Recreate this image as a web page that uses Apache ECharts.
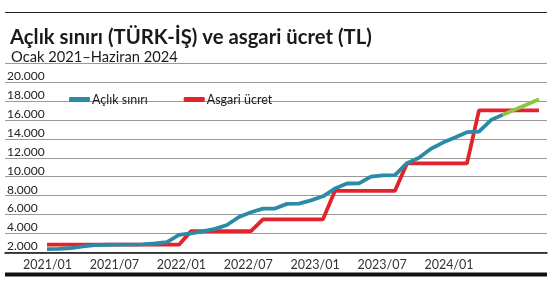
<!DOCTYPE html>
<html>
<head>
<meta charset="utf-8">
<script src="https://cdn.jsdelivr.net/npm/echarts@6/dist/echarts.min.js"></script>
<style>
html,body{margin:0;padding:0;background:#fff;}
#c{width:552px;height:285px;}
</style>
</head>
<body>
<div id="c"></div>
<script>
// Months (Ocak 2021 – Haziran 2024)
const months = [
  '2021/01','2021/02','2021/03','2021/04','2021/05','2021/06','2021/07','2021/08','2021/09','2021/10','2021/11','2021/12',
  '2022/01','2022/02','2022/03','2022/04','2022/05','2022/06','2022/07','2022/08','2022/09','2022/10','2022/11','2022/12',
  '2023/01','2023/02','2023/03','2023/04','2023/05','2023/06','2023/07','2023/08','2023/09','2023/10','2023/11','2023/12',
  '2024/01','2024/02','2024/03','2024/04','2024/05','2024/06'
];
// Açlık sınırı (TL) (through 2024/03)
const aclik = [
  2350, 2380, 2470, 2650, 2780, 2820, 2830, 2830, 2850, 2950, 3100, 3850,
  4030, 4220, 4490, 4900, 5750, 6250, 6630, 6640, 7130, 7160, 7500, 7930,
  8750, 9280, 9290, 10000, 10150, 10160, 11430, 12000, 12950, 13600, 14130, 14700,
  14750, 15980, 16550
];
// Açlık sınırı, final months drawn in green
const aclikSonMonths = ['2024/03','2024/04','2024/05','2024/06'];
const aclikSon = [16550, 17080, 17620, 18170];
// Asgari ücret (TL)
const asgari = [
  2825.90, 2825.90, 2825.90, 2825.90, 2825.90, 2825.90, 2825.90, 2825.90, 2825.90, 2825.90, 2825.90, 2825.90,
  4253.40, 4253.40, 4253.40, 4253.40, 4253.40, 4253.40, 5500.35, 5500.35, 5500.35, 5500.35, 5500.35, 5500.35,
  8506.80, 8506.80, 8506.80, 8506.80, 8506.80, 8506.80, 11402.32, 11402.32, 11402.32, 11402.32, 11402.32, 11402.32,
  17002.12, 17002.12, 17002.12, 17002.12, 17002.12, 17002.12
];
// X tick labels
const xTickLabels = ['2021/01','2021/07','2022/01','2022/07','2023/01','2023/07','2024/01'];
const xTickSteps = [0, 6, 12, 18, 24, 30, 36];
// Y ticks
const yMin = 2000, yMax = 22000, yStep = 2000;

const FONT = 'Lato';
const chart = echarts.init(document.getElementById('c'), null, {renderer: 'canvas'});

const redData = asgari.map((v, i) => [i, v]);
const blueData = aclik.map((v, i) => [i, v]);
const greenData = aclikSon.map((v, k) => [months.indexOf(aclikSonMonths[k]), v]);

chart.setOption({
  animation: false,
  backgroundColor: '#fff',
  textStyle: {fontFamily: FONT},
  title: [
    {text: 'Açlık sınırı (TÜRK-İŞ) ve asgari ücret (TL)', left: 5, top: 22,
     textStyle: {fontFamily: FONT, fontSize: 20.3, fontWeight: 'bold', color: '#1a1a1a'}},
    {text: 'Ocak 2021–Haziran 2024', left: 6, top: 45,
     textStyle: {fontFamily: FONT, fontSize: 14.7, fontWeight: 'normal', color: '#1a1a1a'}}
  ],
  graphic: [
    {type: 'line', shape: {x1: 5, y1: 12.5, x2: 547, y2: 12.5}, style: {stroke: '#222', lineWidth: 1}},
    {type: 'rect', shape: {x: 5, y: 272.5, width: 542, height: 4}, style: {fill: '#111'}}
  ],
  legend: {
    left: 64, top: 88,
    itemWidth: 21, itemHeight: 5, itemGap: 36,
    icon: 'roundRect',
    data: ['Açlık sınırı', 'Asgari ücret'],
    textStyle: {fontFamily: FONT, fontSize: 12.5, color: '#1a1a1a', padding: [0, 0, 0, -3]}
  },
  grid: {left: 5, right: 5, top: 63, bottom: 32.5},
  xAxis: [
    {type: 'value', min: -3.5, max: 41.67, position: 'bottom',
     axisLine: {show: true, onZero: false, lineStyle: {color: '#111', width: 1.5}},
     axisTick: {show: false}, axisLabel: {show: false}, splitLine: {show: false}},
    {type: 'value', min: -3.811, max: 44.787, position: 'bottom',
     axisLine: {show: false, onZero: false}, axisTick: {show: false}, splitLine: {show: false},
     axisLabel: {show: true, customValues: xTickSteps, margin: 6,
       fontFamily: FONT, fontSize: 12.5, color: '#333',
       formatter: v => xTickLabels[xTickSteps.indexOf(v)] || ''}}
  ],
  yAxis: {
    type: 'value', min: yMin, max: yMax, interval: yStep,
    axisLine: {show: false}, axisTick: {show: false},
    splitLine: {show: true, lineStyle: {color: '#9a9a9a', width: 1}},
    axisLabel: {inside: true, align: 'left', verticalAlign: 'bottom', margin: 2,
      fontFamily: FONT, fontSize: 12, color: '#222',
      formatter: v => v >= yMax ? '' : v.toLocaleString('de-DE')}
  },
  series: [
    {name: 'Asgari ücret', type: 'line', xAxisIndex: 0, data: redData, showSymbol: false,
     color: '#e2232b', lineStyle: {width: 3.8, color: '#e2232b'}, z: 2},
    {name: 'Açlık sınırı', type: 'line', xAxisIndex: 0, data: blueData, showSymbol: false,
     color: '#2b8aa6', lineStyle: {width: 3.8, color: '#2b8aa6'}, z: 3},
    {name: 'Açlık sınırı (son)', type: 'line', xAxisIndex: 0, data: greenData, showSymbol: false,
     color: '#8dc63f', lineStyle: {width: 3.8, color: '#8dc63f'}, z: 4}
  ]
});
</script>
</body>
</html>
